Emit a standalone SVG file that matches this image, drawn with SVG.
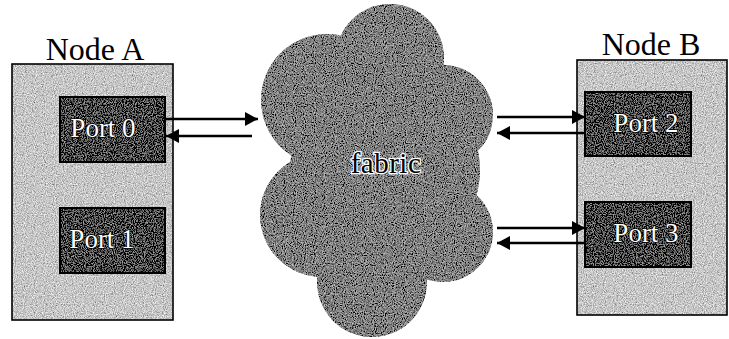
<svg xmlns="http://www.w3.org/2000/svg" width="729" height="339" viewBox="0 0 729 339">
<style>
.port{stroke:#000;stroke-width:2}
.lbl{font-family:"Liberation Serif","Times New Roman",serif;font-size:32px;fill:#000}
.ptxt{font-family:"Liberation Serif","Times New Roman",serif;font-size:27px;fill:#fff;stroke:#000;stroke-width:1.4;paint-order:stroke;text-anchor:middle}
.ftxt{font-family:"Liberation Serif","Times New Roman",serif;font-size:29px;fill:#000;stroke:#fff;stroke-width:2.5;paint-order:stroke;text-anchor:middle}
.conn line{stroke:#000;stroke-width:2.4}
</style>
<defs>
<filter id="grain" x="0" y="0" width="729" height="339" filterUnits="userSpaceOnUse">
<feTurbulence type="fractalNoise" baseFrequency="0.9" numOctaves="2" seed="3" result="n"/>
<feColorMatrix in="n" type="matrix" values="1 0 0 0 0  1 0 0 0 0  1 0 0 0 0  0 0 0 0 1" result="g"/>
<feComposite in="SourceGraphic" in2="g" operator="arithmetic" k1="0" k2="1" k3="1.1" k4="-0.55" result="m"/>
<feComposite in="m" in2="SourceGraphic" operator="in"/>
</filter>
<marker id="ah" markerUnits="userSpaceOnUse" markerWidth="13" markerHeight="14" refX="13" refY="7" orient="auto">
<path d="M0,0 L13,7 L0,14 z" fill="#000"/>
</marker>
</defs>
<rect width="729" height="339" fill="#fff"/>

<g id="fabric">
<g filter="url(#grain)" fill="#808080">
<circle cx="390" cy="58" r="54"/>
<circle cx="327" cy="100" r="66"/>
<circle cx="443" cy="115" r="50"/>
<circle cx="322" cy="215" r="62"/>
<circle cx="443" cy="232" r="50"/>
<circle cx="372" cy="282" r="55"/>
<circle cx="385" cy="170" r="95"/>
</g>
<text class="ftxt" x="386" y="173" letter-spacing="0.5">fabric</text>
</g>

<g id="nodeA">
<text class="lbl" x="95" y="60" text-anchor="middle">Node A</text>
<rect x="12" y="64" width="161" height="256" fill="#c6c6c6" filter="url(#grain)"/>
<rect x="12" y="64" width="161" height="256" fill="none" stroke="#000" stroke-width="1.6"/>
</g>
<g id="port0">
<rect x="60" y="97" width="105" height="65" fill="#4a4a4a" filter="url(#grain)"/>
<rect class="port" x="60" y="97" width="105" height="65" fill="none"/>
<text class="ptxt" x="103" y="137">Port 0</text>
</g>
<g id="port1">
<rect x="60" y="208" width="105" height="65" fill="#4a4a4a" filter="url(#grain)"/>
<rect class="port" x="60" y="208" width="105" height="65" fill="none"/>
<text class="ptxt" x="102" y="248">Port 1</text>
</g>

<g id="nodeB">
<text class="lbl" x="651" y="55" text-anchor="middle">Node B</text>
<rect x="577" y="60" width="150" height="255" fill="#c6c6c6" filter="url(#grain)"/>
<rect x="577" y="60" width="150" height="255" fill="none" stroke="#000" stroke-width="1.6"/>
</g>
<g id="port2">
<rect x="585" y="92" width="106" height="64" fill="#4a4a4a" filter="url(#grain)"/>
<rect class="port" x="585" y="92" width="106" height="64" fill="none"/>
<text class="ptxt" x="646" y="132">Port 2</text>
</g>
<g id="port3">
<rect x="585" y="202" width="106" height="65" fill="#4a4a4a" filter="url(#grain)"/>
<rect class="port" x="585" y="202" width="106" height="65" fill="none"/>
<text class="ptxt" x="646" y="242">Port 3</text>
</g>

<g id="connectors" class="conn">
<line x1="165" y1="119" x2="258" y2="119" marker-end="url(#ah)"/>
<line x1="252" y1="136" x2="166" y2="136" marker-end="url(#ah)"/>
<line x1="497" y1="117" x2="585" y2="117" marker-end="url(#ah)"/>
<line x1="585" y1="133" x2="497" y2="133" marker-end="url(#ah)"/>
<line x1="497" y1="228" x2="585" y2="228" marker-end="url(#ah)"/>
<line x1="585" y1="243" x2="497" y2="243" marker-end="url(#ah)"/>
</g>
</svg>
